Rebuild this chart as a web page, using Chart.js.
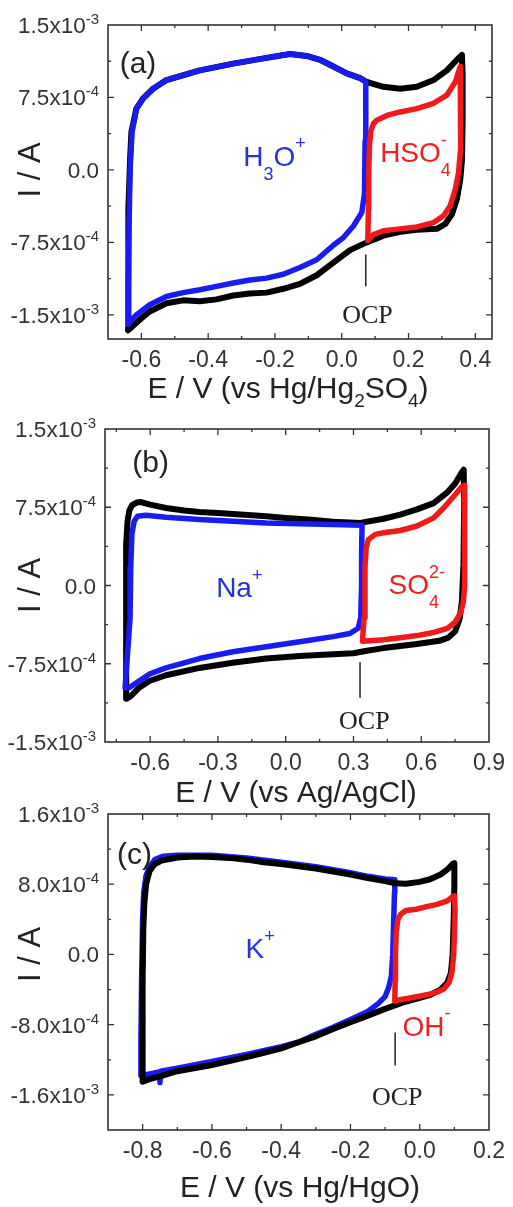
<!DOCTYPE html>
<html>
<head>
<meta charset="utf-8">
<script src="https://cdn.jsdelivr.net/npm/chart.js@4.4.1/dist/chart.umd.min.js"></script>
<style>
  html, body { margin: 0; padding: 0; background: #fff; }
  body { width: 513px; height: 1207px; position: relative; overflow: hidden; }
  canvas { position: absolute; left: 0; }
</style>
</head>
<body>
<canvas id="cvA" width="513" height="410" style="top:0px"></canvas>
<canvas id="cvB" width="513" height="405" style="top:405px"></canvas>
<canvas id="cvC" width="513" height="407" style="top:800px"></canvas>
<script>
// ---- panel (a): H2SO4, E vs Hg/Hg2SO4 (V), I (A) ----
const aBlackE = [-0.640, -0.640, -0.638, -0.634, -0.630, -0.615, -0.595, -0.565, -0.525, -0.425, -0.325, -0.225, -0.155, -0.105, -0.065, -0.025, 0.015, 0.055, 0.075, 0.125, 0.175, 0.225, 0.275, 0.315, 0.345, 0.360, 0.362, 0.362, 0.360, 0.355, 0.345, 0.330, 0.310, 0.285, 0.225, 0.175, 0.125, 0.075, 0.025, -0.025, -0.075, -0.125, -0.175, -0.225, -0.275, -0.325, -0.375, -0.425, -0.475, -0.525, -0.575, -0.605, -0.630, -0.640];
const aBlackI = [-16.4e-4, -10.0e-4, -4.0e-4, 1.0e-4, 3.9e-4, 6.35e-4, 7.4e-4, 8.4e-4, 9.3e-4, 10.3e-4, 11.0e-4, 11.6e-4, 12.0e-4, 11.8e-4, 11.4e-4, 10.7e-4, 10.0e-4, 9.5e-4, 9.1e-4, 8.6e-4, 8.4e-4, 8.6e-4, 9.3e-4, 10.3e-4, 11.4e-4, 11.9e-4, 10.0e-4, 5.0e-4, 1.0e-4, -1.0e-4, -3.0e-4, -4.6e-4, -5.6e-4, -6.1e-4, -6.2e-4, -6.4e-4, -6.8e-4, -7.5e-4, -8.3e-4, -9.6e-4, -10.9e-4, -11.8e-4, -12.3e-4, -12.7e-4, -12.8e-4, -13.0e-4, -13.4e-4, -13.6e-4, -13.5e-4, -13.8e-4, -14.65e-4, -15.5e-4, -16.3e-4, -16.6e-4];
const aBlueE = [0.072, 0.055, 0.015, -0.025, -0.065, -0.105, -0.155, -0.225, -0.325, -0.425, -0.525, -0.565, -0.595, -0.615, -0.628, -0.634, -0.637, -0.639, -0.639, -0.628, -0.615, -0.575, -0.525, -0.475, -0.425, -0.375, -0.325, -0.275, -0.225, -0.175, -0.125, -0.075, -0.025, 0.005, 0.035, 0.060, 0.068, 0.070, 0.072];
const aBlueI = [9.1e-4, 9.5e-4, 10.0e-4, 10.7e-4, 11.4e-4, 11.8e-4, 12.0e-4, 11.6e-4, 11.0e-4, 10.3e-4, 9.3e-4, 8.4e-4, 7.4e-4, 6.35e-4, 3.9e-4, 0, -6.0e-4, -12.0e-4, -16.0e-4, -15.5e-4, -15.0e-4, -13.95e-4, -13.1e-4, -12.7e-4, -12.4e-4, -12.05e-4, -11.7e-4, -11.4e-4, -11.2e-4, -10.8e-4, -10.1e-4, -9.3e-4, -7.8e-4, -7.0e-4, -5.8e-4, -4.4e-4, -2.5e-4, 3.0e-4, 9.1e-4];
const aRedE = [0.078, 0.080, 0.081, 0.083, 0.087, 0.095, 0.105, 0.140, 0.175, 0.225, 0.275, 0.315, 0.340, 0.355, 0.357, 0.355, 0.350, 0.340, 0.325, 0.305, 0.275, 0.225, 0.175, 0.125, 0.095, 0.078];
const aRedI = [-7.3e-4, -4.0e-4, 0, 2.5e-4, 4.0e-4, 4.8e-4, 5.14e-4, 5.7e-4, 6.0e-4, 6.35e-4, 6.9e-4, 7.75e-4, 9.1e-4, 10.7e-4, 7.4e-4, 2.2e-4, -0.25e-4, -2.0e-4, -3.7e-4, -4.75e-4, -5.45e-4, -5.9e-4, -6.1e-4, -6.3e-4, -6.7e-4, -7.3e-4];
const aOcpE = [0.072, 0.072];
const aOcpI = [-8.8e-4, -12.0e-4];
const aXTicks = [-0.6, -0.4, -0.2, 0.0, 0.2, 0.4];
const aXMinor = [-0.7, -0.5, -0.3, -0.1, 0.1, 0.3];
const aYTicks = [1.5e-3, 7.5e-4, 0, -7.5e-4, -1.5e-3];
const aYMinor = [1.125e-3, 3.75e-4, -3.75e-4, -1.125e-3];

// ---- panel (b): Na2SO4, E vs Ag/AgCl ----
const bBlackE = [-0.705, -0.707, -0.707, -0.705, -0.700, -0.692, -0.680, -0.660, -0.641, -0.600, -0.530, -0.450, -0.382, -0.300, -0.234, -0.150, -0.086, 0.000, 0.100, 0.210, 0.330, 0.433, 0.507, 0.581, 0.655, 0.714, 0.751, 0.781, 0.788, 0.790, 0.787, 0.780, 0.770, 0.750, 0.720, 0.680, 0.581, 0.507, 0.433, 0.359, 0.299, 0.210, 0.062, -0.086, -0.234, -0.382, -0.530, -0.604, -0.649, -0.686, -0.705];
const bBlackI = [-10.85e-4, -6.0e-4, 0, 4.0e-4, 6.2e-4, 7.2e-4, 7.7e-4, 7.95e-4, 8.0e-4, 7.75e-4, 7.43e-4, 7.18e-4, 7.05e-4, 6.95e-4, 6.86e-4, 6.73e-4, 6.64e-4, 6.48e-4, 6.32e-4, 6.1e-4, 6.0e-4, 6.4e-4, 6.8e-4, 7.3e-4, 7.9e-4, 8.9e-4, 9.8e-4, 10.9e-4, 11.1e-4, 8.0e-4, 2.0e-4, -1.5e-4, -3.2e-4, -4.4e-4, -5.0e-4, -5.3e-4, -5.6e-4, -5.8e-4, -6.0e-4, -6.25e-4, -6.5e-4, -6.6e-4, -6.75e-4, -7.0e-4, -7.4e-4, -7.9e-4, -8.6e-4, -9.15e-4, -9.8e-4, -10.6e-4, -10.85e-4];
const bBlueE = [0.336, 0.210, 0.062, -0.086, -0.234, -0.382, -0.530, -0.619, -0.656, -0.671, -0.681, -0.686, -0.689, -0.696, -0.705, -0.711, -0.693, -0.649, -0.604, -0.530, -0.382, -0.234, -0.086, 0.062, 0.210, 0.284, 0.321, 0.332, 0.336, 0.336, 0.338];
const bBlueI = [5.78e-4, 5.84e-4, 5.93e-4, 6.0e-4, 6.16e-4, 6.32e-4, 6.54e-4, 6.73e-4, 6.64e-4, 6.16e-4, 4.9e-4, 1.7e-4, -3.1e-4, -5.3e-4, -7.9e-4, -9.8e-4, -9.8e-4, -9.15e-4, -8.5e-4, -7.9e-4, -7.0e-4, -6.35e-4, -5.87e-4, -5.4e-4, -4.9e-4, -4.6e-4, -4.1e-4, -3.1e-4, 0.1e-4, 3.3e-4, 5.78e-4];
const bRedE = [0.340, 0.347, 0.351, 0.356, 0.366, 0.396, 0.433, 0.507, 0.581, 0.655, 0.699, 0.744, 0.781, 0.791, 0.793, 0.793, 0.791, 0.787, 0.775, 0.750, 0.716, 0.655, 0.581, 0.507, 0.433, 0.340];
const bRedI = [-5.2e-4, -3.1e-4, 1.7e-4, 3.6e-4, 4.4e-4, 4.9e-4, 5.05e-4, 5.27e-4, 5.7e-4, 6.48e-4, 7.43e-4, 8.55e-4, 9.5e-4, 9.6e-4, 7.0e-4, 3.0e-4, 0, -1.5e-4, -2.6e-4, -3.5e-4, -4.1e-4, -4.5e-4, -4.8e-4, -5.0e-4, -5.2e-4, -5.35e-4];
const bOcpE = [0.329, 0.329];
const bOcpI = [-7.4e-4, -10.7e-4];
const bXTicks = [-0.6, -0.3, 0.0, 0.3, 0.6, 0.9];
const bXMinor = [-0.75, -0.45, -0.15, 0.15, 0.45, 0.75];
const bYTicks = [1.5e-3, 7.5e-4, 0, -7.5e-4, -1.5e-3];
const bYMinor = [1.125e-3, 3.75e-4, -3.75e-4, -1.125e-3];

// ---- panel (c): KOH, E vs Hg/HgO ----
const cBlackE = [-0.800, -0.800, -0.800, -0.798, -0.795, -0.790, -0.780, -0.765, -0.745, -0.700, -0.650, -0.600, -0.550, -0.500, -0.450, -0.400, -0.300, -0.200, -0.150, -0.100, -0.070, -0.040, 0.000, 0.030, 0.060, 0.080, 0.095, 0.100, 0.100, 0.098, 0.095, 0.090, 0.080, 0.060, 0.030, 0.000, -0.050, -0.100, -0.150, -0.200, -0.250, -0.300, -0.350, -0.400, -0.450, -0.500, -0.600, -0.700, -0.750, -0.780, -0.800];
const cBlackI = [-14.5e-4, -10.0e-4, -3.0e-4, 3.0e-4, 5.9e-4, 8.0e-4, 9.5e-4, 10.3e-4, 10.7e-4, 11.05e-4, 11.15e-4, 11.1e-4, 11.0e-4, 10.8e-4, 10.5e-4, 10.3e-4, 9.8e-4, 9.1e-4, 8.7e-4, 8.35e-4, 8.1e-4, 8.05e-4, 8.27e-4, 8.57e-4, 9.1e-4, 9.7e-4, 10.3e-4, 10.4e-4, 8.0e-4, 4.0e-4, 0, -2.1e-4, -3.2e-4, -4.0e-4, -4.6e-4, -4.95e-4, -5.5e-4, -6.2e-4, -6.97e-4, -7.73e-4, -8.5e-4, -9.33e-4, -10.0e-4, -10.7e-4, -11.2e-4, -11.7e-4, -12.6e-4, -13.3e-4, -13.9e-4, -14.2e-4, -14.5e-4];
const cBlueE = [-0.072, -0.100, -0.150, -0.200, -0.300, -0.400, -0.500, -0.600, -0.700, -0.740, -0.765, -0.780, -0.790, -0.797, -0.800, -0.803, -0.805, -0.805, -0.780, -0.752, -0.750, -0.748, -0.700, -0.600, -0.500, -0.400, -0.350, -0.300, -0.250, -0.200, -0.150, -0.120, -0.100, -0.090, -0.082, -0.078, -0.075, -0.073, -0.072];
const cBlueI = [8.5e-4, 8.6e-4, 8.9e-4, 9.3e-4, 10.0e-4, 10.5e-4, 11.0e-4, 11.3e-4, 11.3e-4, 11.2e-4, 10.8e-4, 10.0e-4, 9.0e-4, 7.0e-4, 4.0e-4, -3.0e-4, -10.0e-4, -13.8e-4, -13.6e-4, -13.4e-4, -14.6e-4, -13.3e-4, -12.95e-4, -12.2e-4, -11.4e-4, -10.5e-4, -10.0e-4, -9.1e-4, -8.3e-4, -7.4e-4, -6.5e-4, -5.6e-4, -4.8e-4, -3.8e-4, -2.5e-4, 0, 4.0e-4, 7.0e-4, 8.5e-4];
const cRedE = [-0.072, -0.071, -0.070, -0.068, -0.063, -0.055, -0.040, -0.010, 0.020, 0.050, 0.080, 0.095, 0.100, 0.102, 0.100, 0.098, 0.093, 0.085, 0.070, 0.050, 0.020, -0.020, -0.050, -0.072];
const cRedI = [-5.3e-4, -3.0e-4, 0, 2.5e-4, 4.0e-4, 4.57e-4, 5.0e-4, 5.15e-4, 5.45e-4, 5.7e-4, 6.1e-4, 6.6e-4, 6.7e-4, 5.0e-4, 2.0e-4, 0, -2.0e-4, -3.2e-4, -3.9e-4, -4.3e-4, -4.6e-4, -4.9e-4, -5.1e-4, -5.3e-4];
const cOcpE = [-0.071, -0.071];
const cOcpI = [-8.95e-4, -12.6e-4];
const cXTicks = [-0.8, -0.6, -0.4, -0.2, 0.0, 0.2];
const cXMinor = [-0.9, -0.7, -0.5, -0.3, -0.1, 0.1];
const cYTicks = [1.6e-3, 8.0e-4, 0, -8.0e-4, -1.6e-3];
const cYMinor = [1.2e-3, 4.0e-4, -4.0e-4, -1.2e-3, -2.0e-3];

const SANS = '"Liberation Sans", Arial, sans-serif';
const SERIF = '"Liberation Serif", "Times New Roman", serif';
const BLACK = '#000000';
const BLUE = '#1a1af2';
const RED = '#f01a1a';
const BLUE_TXT = '#2233dd';
const RED_TXT = '#ee2020';
const AXIS = '#333333';
const W = 513;

// text with sub/superscripts: parts are strings or {sub, sup}
function drawRich(ctx, parts, x, y, o) {
    const size = o.size, small = Math.round(size * (o.ratio || 0.64));
    const family = o.family || SANS;
    const supDy = o.supDy != null ? o.supDy : 0.55;
    const subDy = o.subDy != null ? o.subDy : 0.45;
    const widths = parts.map(p => {
        if (typeof p === 'string') {
            ctx.font = `${size}px ${family}`;
            return ctx.measureText(p).width;
        }
        ctx.font = `${small}px ${family}`;
        return Math.max(p.sup ? ctx.measureText(p.sup).width : 0, p.sub ? ctx.measureText(p.sub).width : 0);
    });
    const total = widths.reduce((a, b) => a + b, 0);
    let cx = o.align === 'center' ? x - total / 2 : o.align === 'right' ? x - total : x;
    ctx.save();
    ctx.fillStyle = o.color;
    ctx.textAlign = 'left';
    ctx.textBaseline = 'alphabetic';
    parts.forEach((p, i) => {
        if (typeof p === 'string') {
            ctx.font = `${size}px ${family}`;
            ctx.fillText(p, cx, y);
        } else {
            ctx.font = `${small}px ${family}`;
            if (p.sup) ctx.fillText(p.sup, cx, y - size * supDy);
            if (p.sub) ctx.fillText(p.sub, cx, y + size * subDy);
        }
        cx += widths[i];
    });
    ctx.restore();
}

function sciParts(v) {
    if (v === 0) return ['0.0'];
    const exp = Math.floor(Math.log10(Math.abs(v)) + 1e-9);
    const man = v / Math.pow(10, exp);
    return [man.toFixed(1) + 'x10', { sup: String(exp) }];
}

const framePlugin = {
    id: 'frame',
    afterDraw(chart) {
        const p = chart.options.plugins.frame;
        const { ctx, chartArea: a } = chart;
        const xs = chart.scales.x, ys = chart.scales.y;
        ctx.save();
        ctx.strokeStyle = AXIS;
        ctx.lineWidth = 1.6;
        ctx.strokeRect(a.left, a.top, a.right - a.left, a.bottom - a.top);
        ctx.lineWidth = 1.3;
        const tick = (vals, len) => {
            vals.forEach(v => {
                const px = xs.getPixelForValue(v);
                if (px < a.left + 1 || px > a.right - 1) return;
                ctx.beginPath();
                ctx.moveTo(px, a.bottom); ctx.lineTo(px, a.bottom - len);
                ctx.moveTo(px, a.top); ctx.lineTo(px, a.top + len);
                ctx.stroke();
            });
        };
        const ytick = (vals, len) => {
            vals.forEach(v => {
                const py = ys.getPixelForValue(v);
                if (py < a.top + 1 || py > a.bottom - 1) return;
                ctx.beginPath();
                ctx.moveTo(a.left, py); ctx.lineTo(a.left + len, py);
                ctx.moveTo(a.right, py); ctx.lineTo(a.right - len, py);
                ctx.stroke();
            });
        };
        tick(p.xTicks, 6); tick(p.xMinor, 3);
        ytick(p.yTicks, 6); ytick(p.yMinor, 3);
        ctx.restore();

        // y tick labels
        p.yTicks.forEach(v => {
            const py = ys.getPixelForValue(v);
            drawRich(ctx, sciParts(v), a.left - 9, py + 8, { size: 22.5, color: AXIS, align: 'right', ratio: 0.66, supDy: 0.4 });
        });

        // axis titles
        drawRich(ctx, p.xTitle, p.xTitleX, a.bottom + p.xTitleDy, { size: 30, color: '#222', align: 'center', ratio: 0.62, subDy: 0.3 });
        ctx.save();
        ctx.translate(31, ys.getPixelForValue(0));
        ctx.rotate(-Math.PI / 2);
        ctx.font = `31px ${SANS}`;
        ctx.fillStyle = '#222';
        ctx.textAlign = 'center';
        ctx.textBaseline = 'middle';
        ctx.fillText('I / A', 0, 0);
        ctx.restore();

        // in-plot labels
        p.labels.forEach(l => {
            drawRich(ctx, l.parts, xs.getPixelForValue(l.x), ys.getPixelForValue(l.y), l);
        });
    }
};

function series(e, i, color, width) {
    return {
        data: e.map((v, k) => ({ x: v, y: i[k] })),
        showLine: true,
        borderColor: color,
        backgroundColor: color,
        borderWidth: width,
        pointRadius: 0,
        tension: 0,
        borderJoinStyle: 'round',
        borderCapStyle: 'round'
    };
}

// datasets are listed bottom-to-top; Chart.js paints index 0 last, so reverse
function makePanel(id, h, area, range, ticks, layers, deco) {
    return new Chart(document.getElementById(id), {
        type: 'scatter',
        data: { datasets: layers.slice().reverse() },
        options: {
            responsive: false,
            animation: false,
            events: [],
            layout: { padding: { top: area.top, right: W - area.right, left: 0, bottom: 0 } },
            plugins: {
                legend: { display: false },
                tooltip: { enabled: false },
                frame: Object.assign({}, ticks, deco)
            },
            scales: {
                x: {
                    type: 'linear',
                    min: range.x[0], max: range.x[1],
                    afterBuildTicks: s => { s.ticks = ticks.xTicks.map(v => ({ value: v })); },
                    afterFit: s => { s.height = h - area.bottom; },
                    ticks: {
                        autoSkip: false, maxRotation: 0, padding: 8,
                        color: AXIS, font: { family: SANS, size: 23 },
                        callback: v => v.toFixed(1)
                    },
                    grid: { display: false, drawTicks: false },
                    border: { display: false }
                },
                y: {
                    type: 'linear',
                    min: range.y[0], max: range.y[1],
                    afterBuildTicks: s => { s.ticks = ticks.yTicks.map(v => ({ value: v })); },
                    afterFit: s => { s.width = area.left; },
                    ticks: { display: false },
                    grid: { display: false, drawTicks: false },
                    border: { display: false }
                }
            }
        },
        plugins: [framePlugin]
    });
}

const ocpStyle = { color: '#222', size: 26, family: SERIF, align: 'center' };
const labelStyle = { size: 28, supDy: 0.58, subDy: 0.5, ratio: 0.65 };

makePanel('cvA', 410, { left: 108, right: 492, top: 25, bottom: 339 },
    { x: [-0.7, 0.45], y: [-1.75e-3, 1.5e-3] },
    { xTicks: aXTicks, xMinor: aXMinor, yTicks: aYTicks, yMinor: aYMinor },
    [series(aBlackE, aBlackI, BLACK, 6), series(aBlueE, aBlueI, BLUE, 5.5), series(aRedE, aRedI, RED, 5.5), series(aOcpE, aOcpI, '#222', 1.5)],
    {
        xTitle: ['E / V (vs Hg/Hg', { sub: '2' }, 'SO', { sub: '4' }, ')'], xTitleX: 288, xTitleDy: 59,
        labels: [
            Object.assign({ x: -0.665, y: 10.0e-4, parts: ['(a)'], color: '#222', size: 30 }),
            Object.assign({}, labelStyle, { x: -0.295, y: 0.45e-4, parts: ['H', { sub: '3' }, 'O', { sup: '+' }], color: BLUE_TXT }),
            Object.assign({}, labelStyle, { x: 0.115, y: 0.8e-4, parts: ['HSO', { sup: '-', sub: '4' }], color: RED_TXT }),
            Object.assign({}, ocpStyle, { x: 0.077, y: -15.8e-4, parts: ['OCP'] })
        ]
    });

makePanel('cvB', 405, { left: 105, right: 489, top: 24, bottom: 337 },
    { x: [-0.8, 0.9], y: [-1.5e-3, 1.5e-3] },
    { xTicks: bXTicks, xMinor: bXMinor, yTicks: bYTicks, yMinor: bYMinor },
    [series(bBlackE, bBlackI, BLACK, 6), series(bBlueE, bBlueI, BLUE, 5.5), series(bRedE, bRedI, RED, 5.5), series(bOcpE, bOcpI, '#222', 1.5)],
    {
        xTitle: ['E / V (vs Ag/AgCl)'], xTitleX: 296, xTitleDy: 60,
        labels: [
            Object.assign({ x: -0.679, y: 10.9e-4, parts: ['(b)'], color: '#222', size: 30 }),
            Object.assign({}, labelStyle, { x: -0.308, y: -1.1e-4, parts: ['Na', { sup: '+' }], color: BLUE_TXT }),
            Object.assign({}, labelStyle, { x: 0.455, y: -0.86e-4, parts: ['SO', { sup: '2-', sub: '4' }], color: RED_TXT }),
            Object.assign({}, ocpStyle, { x: 0.348, y: -13.8e-4, parts: ['OCP'] })
        ]
    });

makePanel('cvC', 407, { left: 108, right: 493, top: 14, bottom: 330 },
    { x: [-0.9, 0.2], y: [-2.0e-3, 1.6e-3] },
    { xTicks: cXTicks, xMinor: cXMinor, yTicks: cYTicks, yMinor: cYMinor },
    [series(cBlueE, cBlueI, BLUE, 5.5), series(cBlackE, cBlackI, BLACK, 6), series(cRedE, cRedI, RED, 5.5), series(cOcpE, cOcpI, '#222', 1.5)],
    {
        xTitle: ['E / V (vs Hg/HgO)'], xTitleX: 300, xTitleDy: 67,
        labels: [
            Object.assign({ x: -0.874, y: 10.3e-4, parts: ['(c)'], color: '#222', size: 30 }),
            Object.assign({}, labelStyle, { x: -0.503, y: -0.38e-4, parts: ['K', { sup: '+' }], color: BLUE_TXT }),
            Object.assign({}, labelStyle, { x: -0.050, y: -9.26e-4, parts: ['OH', { sup: '-' }], color: RED_TXT }),
            Object.assign({}, ocpStyle, { x: -0.065, y: -17.1e-4, parts: ['OCP'] })
        ]
    });
</script>
</body>
</html>
